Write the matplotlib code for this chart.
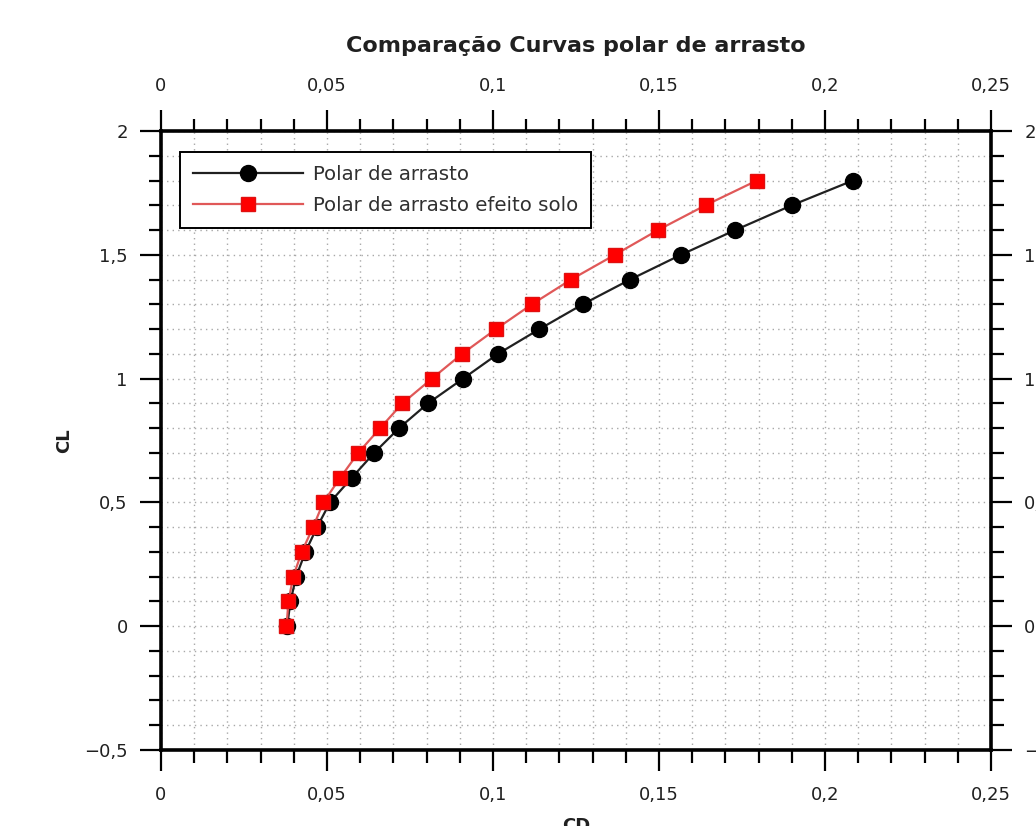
import numpy as np
import matplotlib.pyplot as plt
from matplotlib.ticker import MultipleLocator, FuncFormatter

# CL values for both polars
cl = [0.0, 0.1, 0.2, 0.3, 0.4, 0.5, 0.6, 0.7, 0.8, 0.9,
      1.0, 1.1, 1.2, 1.3, 1.4, 1.5, 1.6, 1.7, 1.8]

# drag polar (free air)
cd_livre = [0.0380, 0.0390, 0.0407, 0.0435, 0.0470, 0.0509, 0.0575, 0.0642, 0.0717, 0.0804,
            0.0910, 0.1015, 0.1140, 0.1270, 0.1413, 0.1566, 0.1730, 0.1900, 0.2084]

# drag polar with ground effect
cd_solo = [0.0378, 0.0384, 0.0398, 0.0424, 0.0458, 0.0489, 0.0540, 0.0594, 0.0660, 0.0727,
           0.0816, 0.0907, 0.1009, 0.1117, 0.1235, 0.1367, 0.1497, 0.1640, 0.1795]

titulo = "Comparação Curvas polar de arrasto"


def virgula(v, pos):
    s = ("%.2f" % v).rstrip("0").rstrip(".")
    if s in ("-0", ""):
        s = "0"
    return s.replace(".", ",").replace("-", "\u2212")


plt.rcParams['font.family'] = ['DejaVu Sans']

fig = plt.figure(figsize=(10.36, 8.26), dpi=100)
ax = fig.add_axes([0.1554, 0.0920, 0.8012, 0.7494])

ax.plot(cd_livre, cl, '-', color='#202020', lw=1.6, marker='o', ms=11.5,
        mfc='black', mec='black', label='Polar de arrasto', zorder=3)
ax.plot(cd_solo, cl, '-', color='#e05858', lw=1.6, marker='s', ms=10.5,
        mfc='#ff0000', mec='#e01010', label='Polar de arrasto efeito solo', zorder=4)

ax.set_xlim(0, 0.25)
ax.set_ylim(-0.5, 2)
ax.xaxis.set_major_locator(MultipleLocator(0.05))
ax.xaxis.set_minor_locator(MultipleLocator(0.01))
ax.yaxis.set_major_locator(MultipleLocator(0.5))
ax.yaxis.set_minor_locator(MultipleLocator(0.1))
ax.xaxis.set_major_formatter(FuncFormatter(virgula))
ax.yaxis.set_major_formatter(FuncFormatter(virgula))

ax.grid(True, which='both', ls=(0, (1, 3)), color='#a8a8a8', lw=1.0)
ax.set_axisbelow(True)

ax.tick_params(which='both', direction='out', top=True, right=True,
               labeltop=True, labelright=True, width=1.6, labelsize=13,
               labelcolor='#202020')
ax.tick_params(which='major', length=15, pad=9)
ax.tick_params(axis='x', which='major', pad=11)
ax.tick_params(which='minor', length=9)
for s in ax.spines.values():
    s.set_linewidth(2.6)

ax.set_title(titulo, fontsize=16, fontweight='bold', pad=18, color='#202020')
ax.set_ylabel('CL', fontsize=13, fontweight='bold', labelpad=8, color='#202020')
ax.set_xlabel('CD', fontsize=13, fontweight='bold', labelpad=9, color='#202020')

leg = ax.legend(loc='upper left', bbox_to_anchor=(0.023, 0.966), borderaxespad=0,
                fontsize=14.2, fancybox=False, framealpha=1, edgecolor='black',
                handlelength=5.6, handletextpad=0.5, borderpad=0.65, labelspacing=0.6)
leg.get_frame().set_linewidth(1.4)
for t in leg.get_texts():
    t.set_color('#303030')

fig.savefig('out.png', dpi=100, facecolor='white')
